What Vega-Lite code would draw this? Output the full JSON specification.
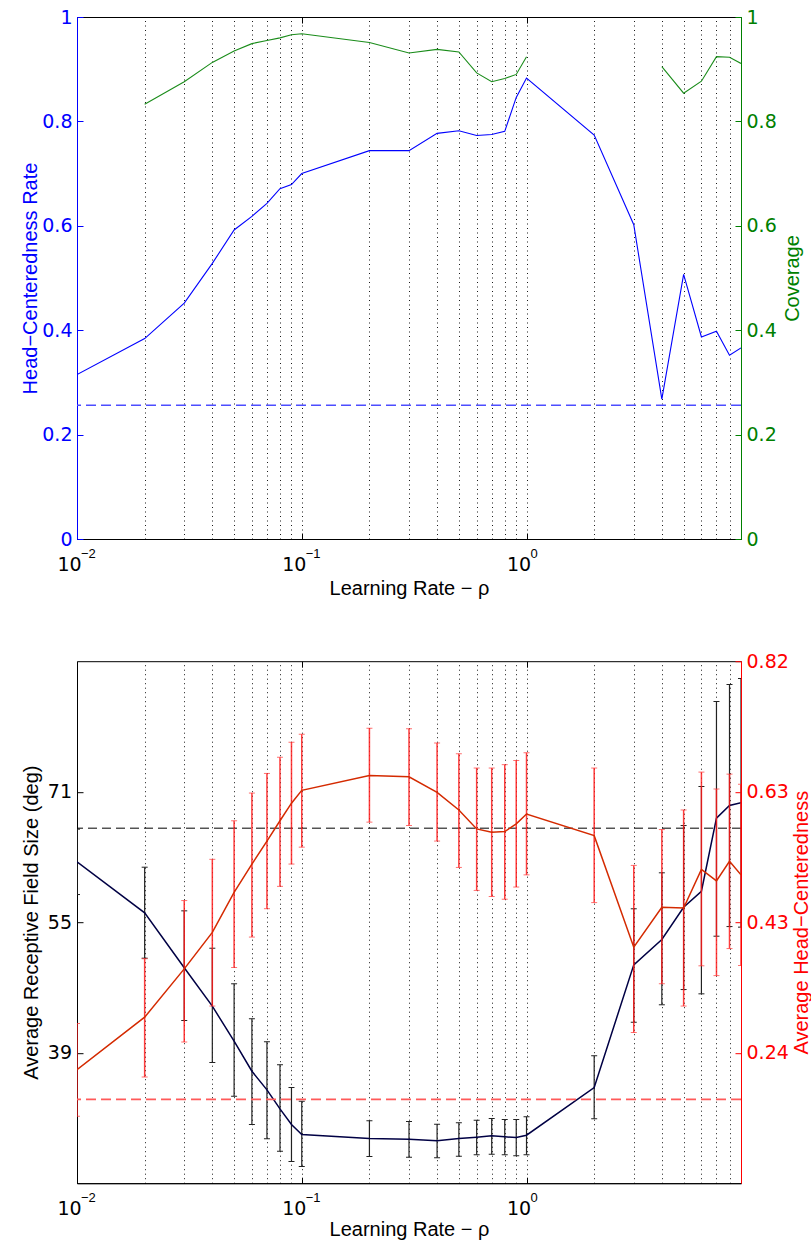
{
  "$schema": "https://vega.github.io/schema/vega-lite/v6.json",
  "padding": {"left": 19, "top": 7, "right": 0, "bottom": 0},
  "spacing": 122.2,
  "bounds": "flush",
  "datasets": {
    "rateCoverage": [
      {"rho": 0.01, "hcr": 0.315, "cov": null},
      {"rho": 0.02, "hcr": 0.384, "cov": 0.833},
      {"rho": 0.03, "hcr": 0.452, "cov": 0.876},
      {"rho": 0.04, "hcr": 0.528, "cov": 0.913},
      {"rho": 0.05, "hcr": 0.592, "cov": 0.935},
      {"rho": 0.06, "hcr": 0.618, "cov": 0.949},
      {"rho": 0.07, "hcr": 0.643, "cov": 0.955},
      {"rho": 0.08, "hcr": 0.671, "cov": 0.960},
      {"rho": 0.09, "hcr": 0.679, "cov": 0.966},
      {"rho": 0.1, "hcr": 0.700, "cov": 0.968},
      {"rho": 0.2, "hcr": 0.744, "cov": 0.951},
      {"rho": 0.3, "hcr": 0.744, "cov": 0.931},
      {"rho": 0.4, "hcr": 0.777, "cov": 0.938},
      {"rho": 0.5, "hcr": 0.782, "cov": 0.933},
      {"rho": 0.6, "hcr": 0.773, "cov": 0.893},
      {"rho": 0.7, "hcr": 0.775, "cov": 0.876},
      {"rho": 0.8, "hcr": 0.781, "cov": 0.882},
      {"rho": 0.9, "hcr": 0.846, "cov": 0.890},
      {"rho": 1, "hcr": 0.883, "cov": 0.924},
      {"rho": 2, "hcr": 0.774, "cov": null},
      {"rho": 3, "hcr": 0.602, "cov": null},
      {"rho": 4, "hcr": 0.268, "cov": 0.905},
      {"rho": 5, "hcr": 0.507, "cov": 0.854},
      {"rho": 6, "hcr": 0.387, "cov": 0.877},
      {"rho": 7, "hcr": 0.398, "cov": 0.924},
      {"rho": 8, "hcr": 0.352, "cov": 0.923},
      {"rho": 9, "hcr": 0.366, "cov": 0.911}
    ],
    "chanceTop": [{"level": 0.256}],
    "decades": [
      {"rho": 0.01, "power": "−2"},
      {"rho": 0.1, "power": "−1"},
      {"rho": 1, "power": "0"}
    ],
    "rfSummary": [
      {"rho": 0.01, "rf": 62.33, "rf_lo": 58.36, "rf_hi": 66.30, "hc": 0.216, "hc_lo": 0.147, "hc_hi": 0.284},
      {"rho": 0.02, "rf": 56.14, "rf_lo": 50.63, "rf_hi": 61.68, "hc": 0.2935, "hc_lo": 0.205, "hc_hi": 0.380},
      {"rho": 0.03, "rf": 49.46, "rf_lo": 43.06, "rf_hi": 56.38, "hc": 0.365, "hc_lo": 0.257, "hc_hi": 0.466},
      {"rho": 0.04, "rf": 44.80, "rf_lo": 37.96, "rf_hi": 51.84, "hc": 0.419, "hc_lo": 0.310, "hc_hi": 0.527},
      {"rho": 0.05, "rf": 40.55, "rf_lo": 33.86, "rf_hi": 47.52, "hc": 0.478, "hc_lo": 0.367, "hc_hi": 0.584},
      {"rho": 0.06, "rf": 36.90, "rf_lo": 30.43, "rf_hi": 43.27, "hc": 0.520, "hc_lo": 0.412, "hc_hi": 0.625},
      {"rho": 0.07, "rf": 34.64, "rf_lo": 28.69, "rf_hi": 40.47, "hc": 0.554, "hc_lo": 0.454, "hc_hi": 0.654},
      {"rho": 0.08, "rf": 32.33, "rf_lo": 27.18, "rf_hi": 37.68, "hc": 0.584, "hc_lo": 0.487, "hc_hi": 0.678},
      {"rho": 0.09, "rf": 30.43, "rf_lo": 25.93, "rf_hi": 34.92, "hc": 0.610, "hc_lo": 0.520, "hc_hi": 0.700},
      {"rho": 0.1, "rf": 29.21, "rf_lo": 25.33, "rf_hi": 33.26, "hc": 0.629, "hc_lo": 0.545, "hc_hi": 0.712},
      {"rho": 0.2, "rf": 28.73, "rf_lo": 26.54, "rf_hi": 30.88, "hc": 0.651, "hc_lo": 0.582, "hc_hi": 0.721},
      {"rho": 0.3, "rf": 28.65, "rf_lo": 26.45, "rf_hi": 30.79, "hc": 0.649, "hc_lo": 0.577, "hc_hi": 0.720},
      {"rho": 0.4, "rf": 28.45, "rf_lo": 26.38, "rf_hi": 30.46, "hc": 0.626, "hc_lo": 0.554, "hc_hi": 0.699},
      {"rho": 0.5, "rf": 28.73, "rf_lo": 26.58, "rf_hi": 30.63, "hc": 0.600, "hc_lo": 0.515, "hc_hi": 0.683},
      {"rho": 0.6, "rf": 28.89, "rf_lo": 26.75, "rf_hi": 30.95, "hc": 0.572, "hc_lo": 0.481, "hc_hi": 0.662},
      {"rho": 0.7, "rf": 29.05, "rf_lo": 26.82, "rf_hi": 31.16, "hc": 0.567, "hc_lo": 0.472, "hc_hi": 0.662},
      {"rho": 0.8, "rf": 28.93, "rf_lo": 26.75, "rf_hi": 31.03, "hc": 0.568, "hc_lo": 0.468, "hc_hi": 0.667},
      {"rho": 0.9, "rf": 28.85, "rf_lo": 26.62, "rf_hi": 31.03, "hc": 0.5795, "hc_lo": 0.486, "hc_hi": 0.673},
      {"rho": 1, "rf": 29.13, "rf_lo": 26.75, "rf_hi": 31.36, "hc": 0.594, "hc_lo": 0.504, "hc_hi": 0.6845},
      {"rho": 2, "rf": 34.92, "rf_lo": 31.12, "rf_hi": 38.77, "hc": 0.562, "hc_lo": 0.463, "hc_hi": 0.662},
      {"rho": 3, "rf": 49.82, "rf_lo": 42.85, "rf_hi": 56.63, "hc": 0.397, "hc_lo": 0.271, "hc_hi": 0.518},
      {"rho": 4, "rf": 52.90, "rf_lo": 44.97, "rf_hi": 61.00, "hc": 0.456, "hc_lo": 0.343, "hc_hi": 0.571},
      {"rho": 5, "rf": 56.82, "rf_lo": 46.82, "rf_hi": 66.74, "hc": 0.455, "hc_lo": 0.310, "hc_hi": 0.600},
      {"rho": 6, "rf": 58.76, "rf_lo": 46.30, "rf_hi": 71.48, "hc": 0.512, "hc_lo": 0.3695, "hc_hi": 0.656},
      {"rho": 7, "rf": 67.63, "rf_lo": 53.30, "rf_hi": 81.80, "hc": 0.495, "hc_lo": 0.355, "hc_hi": 0.631},
      {"rho": 8, "rf": 69.17, "rf_lo": 54.47, "rf_hi": 83.87, "hc": 0.524, "hc_lo": 0.395, "hc_hi": 0.653},
      {"rho": 9, "rf": 69.50, "rf_lo": 54.40, "rf_hi": 84.60, "hc": 0.504, "hc_lo": 0.370, "hc_hi": 0.638}
    ],
    "chanceBottom": [{"rf_ref": 66.42, "hc_ref": 0.172}]
  },
  "vconcat": [
    {
      "width": 664,
      "height": 522,
      "layer": [
        {
          "layer": [
            {
              "data": {"name": "chanceTop"},
              "mark": {"type": "rule", "color": "#4d4dff", "strokeDash": [10, 5], "strokeWidth": 1.5},
              "encoding": {
                "y": {"field": "level", "type": "quantitative", "scale": {"domain": [0, 1], "nice": false, "zero": false}}
              }
            },
            {
              "data": {"name": "rateCoverage"},
              "mark": {"type": "line", "color": "#0000ff", "strokeWidth": 1.1, "clip": true},
              "encoding": {
                "x": {
                  "field": "rho", "type": "quantitative",
                  "scale": {"type": "log", "domain": [0.01, 9], "nice": false},
                  "axis": {
                    "orient": "bottom", "values": [0.01, 0.1, 1],
                    "labelExpr": "'10'", "labelOffset": -8,
                    "labelFlush": false, "labelBaseline": "alphabetic", "labelPadding": 37.5,
                    "tickSize": -6, "tickColor": "#000", "domainColor": "#000", "labelColor": "#000",
                    "title": "Learning Rate − ρ", "titleBaseline": "alphabetic", "titleY": 55, "titleColor": "#000"
                  }
                },
                "y": {
                  "field": "hcr", "type": "quantitative",
                  "scale": {"domain": [0, 1], "nice": false, "zero": false},
                  "axis": {
                    "orient": "left", "values": [0, 0.2, 0.4, 0.6, 0.8, 1], "format": "~g",
                    "tickSize": -6, "labelPadding": 11,
                    "labelColor": "#0000ff", "tickColor": "#0000ff", "domainColor": "#0000ff",
                    "title": "Head−Centeredness Rate", "titleColor": "#0000ff",
                    "titleAngle": 270, "titleBaseline": "alphabetic", "titleX": -41
                  }
                }
              }
            },
            {
              "data": {"name": "decades"},
              "mark": {"type": "text", "align": "left", "baseline": "alphabetic", "dx": 4, "dy": 18.5, "font": "Liberation Sans", "fontSize": 13, "color": "#000000"},
              "encoding": {
                "x": {"field": "rho", "type": "quantitative"},
                "y": {"datum": 0, "type": "quantitative"},
                "text": {"field": "power"}
              }
            }
          ]
        },
        {
          "data": {"name": "rateCoverage"},
          "mark": {"type": "line", "color": "#1a8c1a", "strokeWidth": 1.1, "clip": true, "invalid": "break-paths-show-domains"},
          "encoding": {
            "x": {
              "field": "rho", "type": "quantitative",
              "scale": {"type": "log", "domain": [0.01, 9], "nice": false},
              "axis": {
                "orient": "top",
                "values": [0.02, 0.03, 0.04, 0.05, 0.06, 0.07, 0.08, 0.09, 0.1, 0.2, 0.3, 0.4, 0.5, 0.6, 0.7, 0.8, 0.9, 1, 2, 3, 4, 5, 6, 7, 8],
                "grid": true, "gridDash": [1, 3.5], "gridColor": "#000", "gridWidth": 1, "gridOpacity": 0.9,
                "labels": false, "domain": false, "tickSize": -6, "tickColor": "#000",
                "tickOpacity": {"condition": {"test": "datum.value == 0.1 || datum.value == 1", "value": 1}, "value": 0},
                "title": null
              }
            },
            "y": {
              "field": "cov", "type": "quantitative",
              "scale": {"domain": [0, 1], "nice": false, "zero": false},
              "axis": {
                "orient": "right", "values": [0, 0.2, 0.4, 0.6, 0.8, 1], "format": "~g",
                "tickSize": -6, "labelPadding": 11,
                "labelColor": "#008000", "tickColor": "#008000", "domainColor": "#008000",
                "title": "Coverage", "titleColor": "#008000",
                "titleAngle": 270, "titleBaseline": "alphabetic", "titleX": 57
              }
            }
          }
        }
      ],
      "resolve": {"scale": {"y": "independent"}}
    },
    {
      "width": 664,
      "height": 522,
      "layer": [
        {
          "layer": [
            {
              "data": {"name": "rfSummary"},
              "mark": {"type": "rule", "color": "#222222", "strokeWidth": 1.2, "clip": true},
              "encoding": {
                "x": {"field": "rho", "type": "quantitative", "scale": {"type": "log", "domain": [0.01, 9], "nice": false}},
                "y": {"field": "rf_lo", "type": "quantitative", "scale": {"domain": [23.3, 86.7], "nice": false, "zero": false}},
                "y2": {"field": "rf_hi"}
              }
            },
            {
              "data": {"name": "rfSummary"},
              "mark": {"type": "tick", "orient": "horizontal", "size": 6, "thickness": 1, "color": "#222222", "opacity": 1, "clip": true},
              "encoding": {
                "x": {"field": "rho", "type": "quantitative"},
                "y": {"field": "rf_lo", "type": "quantitative"}
              }
            },
            {
              "data": {"name": "rfSummary"},
              "mark": {"type": "tick", "orient": "horizontal", "size": 6, "thickness": 1, "color": "#222222", "opacity": 1, "clip": true},
              "encoding": {
                "x": {"field": "rho", "type": "quantitative"},
                "y": {"field": "rf_hi", "type": "quantitative"}
              }
            },
            {
              "data": {"name": "chanceBottom"},
              "mark": {"type": "rule", "color": "#000000", "strokeDash": [9, 5], "strokeWidth": 1},
              "encoding": {
                "y": {"field": "rf_ref", "type": "quantitative"}
              }
            },
            {
              "data": {"name": "rfSummary"},
              "mark": {"type": "line", "color": "#000044", "strokeWidth": 1.5, "clip": true},
              "encoding": {
                "x": {
                  "field": "rho", "type": "quantitative",
                  "scale": {"type": "log", "domain": [0.01, 9], "nice": false},
                  "axis": {
                    "orient": "bottom", "values": [0.01, 0.1, 1],
                    "labelExpr": "'10'", "labelOffset": -8,
                    "labelFlush": false, "labelBaseline": "alphabetic", "labelPadding": 37,
                    "tickSize": -6, "tickColor": "#000", "domainColor": "#000", "labelColor": "#000",
                    "title": "Learning Rate − ρ", "titleBaseline": "alphabetic", "titleY": 52.5, "titleColor": "#000"
                  }
                },
                "y": {
                  "field": "rf", "type": "quantitative",
                  "scale": {"domain": [23.3, 86.7], "nice": false, "zero": false},
                  "axis": {
                    "orient": "left", "values": [39.15, 55, 70.85], "format": ".0f",
                    "tickSize": -6, "labelPadding": 11.5,
                    "labelColor": "#000", "tickColor": "#000", "domainColor": "#000",
                    "title": "Average Receptive Field Size (deg)", "titleColor": "#000",
                    "titleAngle": 270, "titleBaseline": "alphabetic", "titleX": -40
                  }
                }
              }
            },
            {
              "data": {"name": "decades"},
              "mark": {"type": "text", "align": "left", "baseline": "alphabetic", "dx": 4, "dy": 18.5, "font": "Liberation Sans", "fontSize": 13, "color": "#000000"},
              "encoding": {
                "x": {"field": "rho", "type": "quantitative"},
                "y": {"datum": 23.3, "type": "quantitative"},
                "text": {"field": "power"}
              }
            }
          ]
        },
        {
          "layer": [
            {
              "data": {"name": "rfSummary"},
              "mark": {"type": "rule", "color": "#ff1a1a", "strokeWidth": 1.5, "opacity": 0.85, "clip": true},
              "encoding": {
                "x": {"field": "rho", "type": "quantitative", "scale": {"type": "log", "domain": [0.01, 9], "nice": false}},
                "y": {"field": "hc_lo", "type": "quantitative", "scale": {"domain": [0.048, 0.82], "nice": false, "zero": false}},
                "y2": {"field": "hc_hi"}
              }
            },
            {
              "data": {"name": "rfSummary"},
              "mark": {"type": "tick", "orient": "horizontal", "size": 6, "thickness": 1, "color": "#ff3333", "clip": true},
              "encoding": {
                "x": {"field": "rho", "type": "quantitative"},
                "y": {"field": "hc_lo", "type": "quantitative"}
              }
            },
            {
              "data": {"name": "rfSummary"},
              "mark": {"type": "tick", "orient": "horizontal", "size": 6, "thickness": 1, "color": "#ff3333", "clip": true},
              "encoding": {
                "x": {"field": "rho", "type": "quantitative"},
                "y": {"field": "hc_hi", "type": "quantitative"}
              }
            },
            {
              "data": {"name": "chanceBottom"},
              "mark": {"type": "rule", "color": "#ff5a5a", "strokeDash": [10, 5], "strokeWidth": 1.8},
              "encoding": {
                "y": {"field": "hc_ref", "type": "quantitative"}
              }
            },
            {
              "data": {"name": "rfSummary"},
              "mark": {"type": "line", "color": "#d42a00", "strokeWidth": 1.5, "clip": true},
              "encoding": {
                "x": {
                  "field": "rho", "type": "quantitative",
                  "scale": {"type": "log", "domain": [0.01, 9], "nice": false},
                  "axis": {
                    "orient": "top",
                    "values": [0.02, 0.03, 0.04, 0.05, 0.06, 0.07, 0.08, 0.09, 0.1, 0.2, 0.3, 0.4, 0.5, 0.6, 0.7, 0.8, 0.9, 1, 2, 3, 4, 5, 6, 7, 8],
                    "grid": true, "gridDash": [1, 3.5], "gridColor": "#000", "gridWidth": 1, "gridOpacity": 0.9,
                    "labels": false, "domain": false, "tickSize": -6, "tickColor": "#000",
                    "tickOpacity": {"condition": {"test": "datum.value == 0.1 || datum.value == 1", "value": 1}, "value": 0},
                    "title": null
                  }
                },
                "y": {
                  "field": "hc", "type": "quantitative",
                  "scale": {"domain": [0.048, 0.82], "nice": false, "zero": false},
                  "axis": {
                    "orient": "right", "values": [0.241, 0.434, 0.627, 0.82], "format": ".2f",
                    "tickSize": -6, "labelPadding": 11,
                    "labelColor": "#ff0000", "tickColor": "#ff0000", "domainColor": "#ff0000",
                    "title": "Average Head−Centeredness", "titleColor": "#ff0000",
                    "titleAngle": 270, "titleBaseline": "alphabetic", "titleX": 66
                  }
                }
              }
            }
          ]
        }
      ],
      "resolve": {"scale": {"y": "independent"}}
    }
  ],
  "config": {
    "view": {"stroke": "#000000", "strokeWidth": 1},
    "axis": {
      "labelFont": "DejaVu Sans",
      "titleFont": "Liberation Sans",
      "labelFontSize": 19,
      "titleFontSize": 20,
      "titleFontWeight": "normal",
      "grid": false,
      "domainWidth": 1,
      "tickWidth": 1
    }
  }
}
